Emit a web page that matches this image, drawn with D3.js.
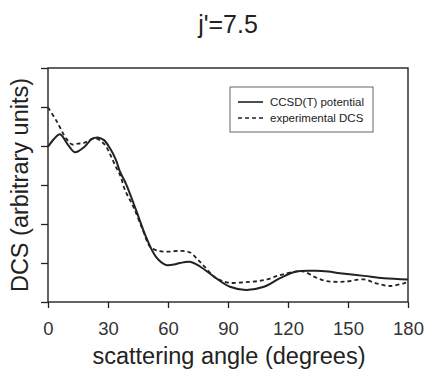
<!DOCTYPE html>
<html><head><meta charset="utf-8">
<script src="https://cdn.jsdelivr.net/npm/d3@7"></script>
<style>body{margin:0;background:#fff}svg{display:block}text{font-family:"Liberation Sans",Arial,sans-serif}</style>
</head><body>
<svg id="c" width="425" height="371"></svg>
<script>
const xTicks = [0, 30, 60, 90, 120, 150, 180];
const yTicks = [0, 1, 2, 3, 4, 5, 6];
const ccsdAngle = [0, 3, 6, 10, 13.5, 18, 22, 25, 28, 31, 34, 36, 39, 44, 49, 54, 59, 63, 66, 71, 76, 83, 91, 99, 108, 116, 124, 134, 140, 146, 158, 168, 180];
const ccsdValue = [3.98, 4.18, 4.30, 4.03, 3.84, 3.97, 4.18, 4.22, 4.15, 3.94, 3.64, 3.34, 3.03, 2.36, 1.67, 1.16, 0.95, 0.96, 1.00, 1.03, 0.91, 0.65, 0.39, 0.31, 0.39, 0.61, 0.78, 0.80, 0.78, 0.74, 0.67, 0.61, 0.58];
const expAngle = [0, 4.5, 9, 12, 15, 18, 23.5, 27.7, 30, 32, 34, 36, 38.5, 42.7, 47, 51, 54, 59, 66, 71, 75, 78, 83, 87, 91, 99, 108, 116, 124, 128, 133, 139, 148, 158, 164, 171, 178, 180];
const expValue = [4.99, 4.62, 4.20, 4.04, 4.06, 4.08, 4.20, 4.07, 3.90, 3.68, 3.46, 3.26, 2.87, 2.44, 1.90, 1.42, 1.33, 1.29, 1.31, 1.27, 1.08, 0.92, 0.65, 0.54, 0.49, 0.51, 0.56, 0.69, 0.78, 0.78, 0.65, 0.54, 0.52, 0.58, 0.48, 0.41, 0.48, 0.51];
const seriesNames = ["CCSD(T) potential", "experimental DCS"];
const title = "j'=7.5";
const xLabel = "scattering angle (degrees)";
const yLabel = "DCS (arbitrary units)";

const svg = d3.select("#c");
const m = {l: 48, r: 408, t: 68, b: 302};
const x = d3.scaleLinear().domain([0, 180]).range([m.l, m.r]);
const y = d3.scaleLinear().domain([0, 6]).range([m.b, m.t]);
const ink = "#222";

svg.append("rect").attr("x", m.l).attr("y", m.t).attr("width", m.r - m.l).attr("height", m.b - m.t)
  .attr("fill", "none").attr("stroke", ink).attr("stroke-width", 1.4);

const xa = svg.append("g").attr("transform", `translate(0,${m.b})`)
  .call(d3.axisBottom(x).tickValues(xTicks).tickSize(6).tickPadding(14).tickFormat(d3.format("d")));
xa.select(".domain").remove();
xa.selectAll("line").attr("stroke", ink).attr("stroke-width", 1.3);
xa.selectAll("text").attr("font-size", 18.5).attr("fill", "#333").style("font-family", '"Liberation Sans",Arial,sans-serif');

const ya = svg.append("g").attr("transform", `translate(${m.l},0)`)
  .call(d3.axisLeft(y).tickValues(yTicks).tickSize(7).tickFormat(""));
ya.select(".domain").remove();
ya.selectAll("line").attr("stroke", ink).attr("stroke-width", 1.3);

const line = d3.line().x(d => x(d[0])).y(d => y(d[1])).curve(d3.curveCatmullRom.alpha(0.5));
const ccsd = ccsdAngle.map((a, i) => [a, ccsdValue[i]]);
const exp = expAngle.map((a, i) => [a, expValue[i]]);
svg.append("path").datum(exp).attr("d", line).attr("fill", "none").attr("stroke", ink)
  .attr("stroke-width", 1.8).attr("stroke-dasharray", "4,3");
svg.append("path").datum(ccsd).attr("d", line).attr("fill", "none").attr("stroke", ink)
  .attr("stroke-width", 2);

svg.append("text").attr("x", 228).attr("y", 33).attr("text-anchor", "middle").attr("font-size", 25).attr("fill", ink).text(title);
svg.append("text").attr("x", 229).attr("y", 364).attr("text-anchor", "middle").attr("font-size", 23.5).attr("fill", ink).text(xLabel);
svg.append("text").attr("transform", "translate(28,185) rotate(-90)").attr("text-anchor", "middle").attr("font-size", 23.5).attr("fill", ink).text(yLabel);

const lg = svg.append("g");
lg.append("rect").attr("x", 230).attr("y", 87).attr("width", 143).attr("height", 45)
  .attr("fill", "#fff").attr("stroke", "#666").attr("stroke-width", 1);
seriesNames.forEach((name, i) => {
  const yy = 102 + i * 16;
  lg.append("line").attr("x1", 238).attr("x2", 263).attr("y1", yy).attr("y2", yy)
    .attr("stroke", ink).attr("stroke-width", 1.6).attr("stroke-dasharray", i ? "4,3" : null);
  lg.append("text").attr("x", 270).attr("y", yy + 4).attr("font-size", 11.5).attr("fill", ink).text(name);
});
</script>
</body></html>
